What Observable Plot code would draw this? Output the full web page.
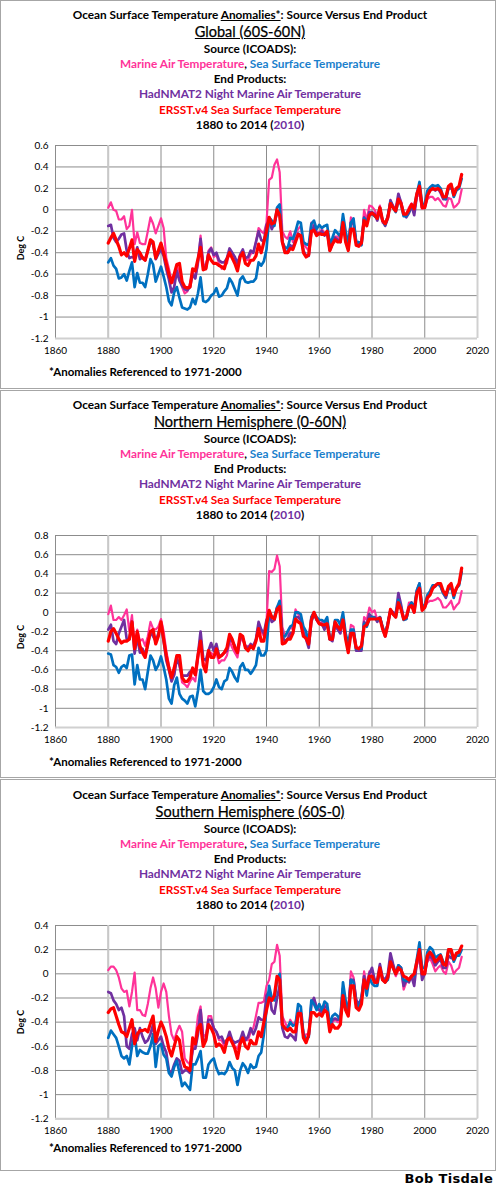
<!DOCTYPE html>
<html><head><meta charset="utf-8">
<script src="https://cdn.jsdelivr.net/npm/d3@7"></script>
<script src="https://cdn.jsdelivr.net/npm/@observablehq/plot@0.6"></script>
<style>
body{margin:0;background:#fff;}
#page{position:relative;width:500px;height:1188px;background:#fff;font-family:Lato,"Open Sans",sans-serif;color:#000;}
.box{position:absolute;left:0;width:496px;border:1px solid #a6a6a6;box-sizing:border-box;}
.ln{position:absolute;left:0;width:500px;text-align:center;white-space:nowrap;font-weight:bold;font-size:11.8px;line-height:14px;}
.big{font-size:14.5px;font-weight:normal;line-height:18px;text-decoration:underline;-webkit-text-stroke:0.25px #000;}
.u{text-decoration:underline;}
.ylab{position:absolute;font-size:9px;font-weight:bold;transform:translate(-50%,-50%) rotate(-90deg);white-space:nowrap;}
.foot{position:absolute;left:49px;font-size:11.5px;font-weight:bold;white-space:nowrap;line-height:14px;}
.sig{position:absolute;right:7px;top:1171px;font-size:13px;font-weight:900;font-family:"DejaVu Sans",sans-serif;letter-spacing:0.3px;}
.plot{position:absolute;left:0;}
</style>
</head><body><div id="page"></div>
<script>
const years = d3.range(1880, 2015);
const hadYears = d3.range(1880, 2011);
const xTicks = [1860, 1880, 1900, 1920, 1940, 1960, 1980, 2000, 2020];
const seriesNames = ["Marine Air Temperature", "HadNMAT2 Night Marine Air Temperature", "Sea Surface Temperature", "ERSST.v4 Sea Surface Temperature"];
const seriesColors = ["#ff3399", "#7030a0", "#0070c0", "#ff0000"];
const panelTitles = ["Global (60S-60N)", "Northern Hemisphere (0-60N)", "Southern Hemisphere (60S-0)"];
const yTicksGlobal = [-1.2, -1, -0.8, -0.6, -0.4, -0.2, 0, 0.2, 0.4, 0.6];
const yTicksNH = [-1.2, -1, -0.8, -0.6, -0.4, -0.2, 0, 0.2, 0.4, 0.6, 0.8];
const yTicksSH = [-1.2, -1, -0.8, -0.6, -0.4, -0.2, 0, 0.2, 0.4];

// ---------- Global (60S-60N) ----------
const globalMAT = [
 0.02,0.07,0.0,-0.01,-0.09,-0.09,-0.06,-0.18,-0.15,0.0,
 -0.32,-0.21,-0.31,-0.32,-0.32,-0.2,-0.07,-0.13,-0.22,-0.15,
 -0.08,-0.17,-0.45,-0.55,-0.66,-0.68,-0.52,-0.6,-0.72,-0.78,
 -0.76,-0.68,-0.58,-0.63,-0.52,-0.24,-0.5,-0.54,-0.38,-0.35,
 -0.44,-0.42,-0.5,-0.55,-0.52,-0.5,-0.38,-0.43,-0.47,-0.52,
 -0.42,-0.39,-0.46,-0.47,-0.41,-0.4,-0.3,-0.17,-0.2,-0.22,
 -0.12,0.28,0.3,0.42,0.47,0.35,-0.2,-0.25,-0.27,-0.2,
 -0.3,-0.22,-0.18,-0.15,-0.32,-0.35,-0.38,-0.12,-0.15,-0.2,
 -0.22,-0.18,-0.22,-0.2,-0.37,-0.3,-0.25,-0.25,-0.3,-0.12,
 -0.28,-0.35,-0.07,-0.1,-0.32,-0.3,-0.32,0.0,-0.1,0.04,
 0.03,0.0,-0.06,0.04,-0.12,-0.14,-0.05,0.08,0.04,0.0,
 0.12,0.08,-0.05,-0.04,0.02,0.06,-0.02,0.12,0.15,0.01,
 0.02,0.1,0.12,0.12,0.09,0.11,0.08,0.04,0.03,0.11,
 0.1,0.02,0.04,0.07,0.19];
const globalSST = [
 -0.49,-0.45,-0.52,-0.55,-0.64,-0.63,-0.6,-0.66,-0.57,-0.49,
 -0.72,-0.59,-0.68,-0.68,-0.72,-0.6,-0.46,-0.51,-0.67,-0.6,
 -0.53,-0.62,-0.72,-0.85,-0.89,-0.77,-0.72,-0.82,-0.91,-0.92,
 -0.93,-0.91,-0.83,-0.88,-0.78,-0.63,-0.85,-0.86,-0.84,-0.8,
 -0.78,-0.73,-0.81,-0.8,-0.76,-0.73,-0.64,-0.68,-0.74,-0.8,
 -0.65,-0.62,-0.67,-0.68,-0.67,-0.67,-0.64,-0.49,-0.52,-0.48,
 -0.37,-0.07,-0.1,-0.15,0.02,0.05,-0.3,-0.35,-0.36,-0.26,
 -0.27,-0.2,-0.11,-0.12,-0.3,-0.32,-0.33,-0.13,-0.1,-0.18,
 -0.14,-0.17,-0.15,-0.14,-0.32,-0.26,-0.19,-0.22,-0.25,-0.04,
 -0.2,-0.32,-0.12,-0.08,-0.3,-0.3,-0.33,-0.08,-0.12,-0.05,
 -0.04,-0.06,-0.08,0.02,-0.1,-0.14,-0.06,0.07,0.02,-0.02,
 0.08,0.05,-0.06,-0.06,-0.02,0.04,0.03,0.15,0.26,0.05,
 0.06,0.18,0.21,0.23,0.22,0.23,0.2,0.12,0.1,0.21,
 0.23,0.12,0.18,0.2,0.29];
const globalHad = [
 -0.15,-0.14,-0.26,-0.3,-0.27,-0.23,-0.22,-0.38,-0.45,-0.44,
 -0.45,-0.35,-0.46,-0.44,-0.47,-0.38,-0.3,-0.32,-0.46,-0.41,
 -0.37,-0.43,-0.55,-0.65,-0.77,-0.72,-0.57,-0.66,-0.71,-0.74,
 -0.75,-0.72,-0.6,-0.64,-0.48,-0.27,-0.53,-0.55,-0.4,-0.36,
 -0.42,-0.4,-0.47,-0.49,-0.49,-0.45,-0.36,-0.4,-0.44,-0.5,
 -0.42,-0.37,-0.45,-0.44,-0.38,-0.4,-0.3,-0.2,-0.28,-0.3,
 -0.14,-0.1,-0.18,-0.12,-0.03,-0.05,-0.3,-0.38,-0.4,-0.33,
 -0.35,-0.28,-0.22,-0.25,-0.38,-0.43,-0.43,-0.2,-0.15,-0.22,
 -0.22,-0.2,-0.24,-0.2,-0.38,-0.32,-0.26,-0.28,-0.3,-0.1,
 -0.27,-0.35,-0.12,-0.13,-0.3,-0.33,-0.32,-0.07,-0.12,-0.02,
 -0.02,-0.04,-0.1,0.0,-0.1,-0.15,-0.08,0.09,0.03,0.0,
 0.15,0.07,-0.03,-0.07,-0.03,0.04,-0.05,0.13,0.2,0.02,
 0.03,0.14,0.18,0.2,0.18,0.2,0.16,0.1,0.1,0.2,
 0.2];
const globalERSST = [
 -0.31,-0.26,-0.22,-0.28,-0.34,-0.42,-0.4,-0.43,-0.36,-0.28,
 -0.48,-0.37,-0.4,-0.45,-0.47,-0.38,-0.28,-0.3,-0.45,-0.38,
 -0.31,-0.4,-0.5,-0.6,-0.68,-0.6,-0.51,-0.5,-0.67,-0.72,
 -0.73,-0.72,-0.55,-0.57,-0.46,-0.35,-0.56,-0.55,-0.42,-0.47,
 -0.5,-0.5,-0.52,-0.53,-0.55,-0.46,-0.4,-0.45,-0.5,-0.57,
 -0.44,-0.4,-0.5,-0.52,-0.47,-0.47,-0.43,-0.32,-0.4,-0.3,
 -0.2,-0.07,-0.13,-0.12,0.0,-0.05,-0.3,-0.4,-0.4,-0.36,
 -0.37,-0.3,-0.23,-0.24,-0.4,-0.44,-0.42,-0.2,-0.19,-0.24,
 -0.22,-0.23,-0.23,-0.2,-0.38,-0.32,-0.28,-0.3,-0.3,-0.12,
 -0.3,-0.38,-0.18,-0.18,-0.33,-0.34,-0.31,-0.1,-0.15,-0.05,
 -0.03,-0.05,-0.08,0.02,-0.1,-0.13,-0.07,0.06,0.02,-0.01,
 0.1,0.06,-0.04,-0.04,0.0,0.05,0.01,0.15,0.22,0.02,
 0.02,0.13,0.18,0.2,0.19,0.2,0.18,0.12,0.12,0.22,
 0.24,0.14,0.2,0.22,0.33];

// ---------- Northern Hemisphere (0-60N) ----------
const nhMAT = [
 -0.02,0.07,-0.08,-0.08,-0.05,-0.08,-0.03,0.03,-0.2,-0.03,
 -0.35,-0.18,-0.3,-0.28,-0.35,-0.25,-0.1,-0.17,-0.18,-0.15,
 -0.07,-0.2,-0.4,-0.55,-0.7,-0.65,-0.48,-0.55,-0.73,-0.75,
 -0.78,-0.72,-0.68,-0.72,-0.5,-0.25,-0.52,-0.58,-0.42,-0.42,
 -0.45,-0.42,-0.53,-0.5,-0.5,-0.45,-0.3,-0.37,-0.42,-0.47,
 -0.3,-0.28,-0.37,-0.35,-0.35,-0.38,-0.3,-0.12,-0.2,-0.25,
 -0.1,0.43,0.42,0.45,0.59,0.48,-0.15,-0.25,-0.23,-0.15,
 -0.18,0.03,-0.02,-0.05,-0.18,-0.28,-0.3,-0.05,0.0,-0.08,
 -0.12,-0.1,-0.15,-0.08,-0.28,-0.25,-0.13,-0.15,-0.15,-0.05,
 -0.25,-0.35,-0.13,-0.15,-0.35,-0.38,-0.38,-0.05,-0.08,0.05,
 0.0,0.02,-0.08,-0.05,-0.15,-0.22,-0.1,0.03,0.0,-0.02,
 0.1,0.07,-0.05,-0.05,0.1,0.1,0.02,0.22,0.25,0.02,
 0.05,0.1,0.12,0.12,0.13,0.15,0.12,0.05,0.05,0.08,
 0.12,0.03,0.07,0.1,0.22];
const nhSST = [
 -0.43,-0.44,-0.55,-0.57,-0.63,-0.57,-0.55,-0.58,-0.45,-0.44,
 -0.75,-0.55,-0.7,-0.7,-0.8,-0.62,-0.45,-0.5,-0.6,-0.55,
 -0.46,-0.57,-0.7,-0.9,-0.95,-0.76,-0.68,-0.85,-0.9,-0.92,
 -0.95,-0.88,-0.87,-0.98,-0.82,-0.6,-0.82,-0.85,-0.85,-0.83,
 -0.78,-0.7,-0.78,-0.8,-0.72,-0.7,-0.58,-0.62,-0.68,-0.72,
 -0.57,-0.53,-0.6,-0.6,-0.64,-0.6,-0.55,-0.37,-0.45,-0.45,
 -0.4,0.0,-0.05,-0.05,0.05,0.12,-0.25,-0.25,-0.2,-0.15,
 -0.13,0.0,0.0,-0.02,-0.15,-0.2,-0.33,-0.05,0.0,-0.05,
 -0.08,-0.08,-0.1,-0.05,-0.28,-0.25,-0.08,-0.08,-0.13,0.0,
 -0.22,-0.33,-0.18,-0.18,-0.38,-0.38,-0.38,-0.12,-0.15,-0.07,
 -0.05,-0.06,-0.08,-0.05,-0.15,-0.23,-0.12,0.02,-0.02,-0.05,
 0.13,0.05,-0.08,-0.07,0.05,0.1,0.05,0.23,0.3,0.05,
 0.08,0.18,0.22,0.28,0.28,0.3,0.27,0.2,0.17,0.25,
 0.27,0.15,0.25,0.28,0.42];
const nhHad = [
 -0.18,-0.13,-0.3,-0.33,-0.22,-0.15,-0.08,-0.28,-0.28,-0.1,
 -0.43,-0.25,-0.42,-0.38,-0.45,-0.35,-0.2,-0.25,-0.3,-0.22,
 -0.13,-0.3,-0.5,-0.6,-0.72,-0.65,-0.48,-0.55,-0.66,-0.66,
 -0.66,-0.62,-0.6,-0.65,-0.45,-0.2,-0.48,-0.5,-0.4,-0.32,
 -0.4,-0.33,-0.45,-0.45,-0.42,-0.4,-0.28,-0.3,-0.35,-0.42,
 -0.27,-0.27,-0.35,-0.38,-0.33,-0.35,-0.28,-0.1,-0.18,-0.22,
 -0.08,-0.02,-0.1,-0.08,0.05,0.08,-0.25,-0.3,-0.28,-0.22,
 -0.22,-0.05,-0.05,-0.08,-0.22,-0.28,-0.37,-0.1,-0.02,-0.08,
 -0.12,-0.12,-0.18,-0.1,-0.28,-0.3,-0.13,-0.18,-0.22,-0.05,
 -0.25,-0.4,-0.2,-0.22,-0.4,-0.4,-0.4,-0.1,-0.13,-0.02,
 -0.05,-0.05,-0.1,-0.05,-0.17,-0.25,-0.12,0.02,0.0,-0.02,
 0.2,0.08,-0.07,-0.07,0.05,0.1,0.0,0.22,0.3,0.03,
 0.05,0.15,0.2,0.26,0.27,0.3,0.27,0.2,0.15,0.25,
 0.25];
const nhERSST = [
 -0.3,-0.2,-0.17,-0.22,-0.28,-0.32,-0.3,-0.3,-0.28,-0.1,
 -0.38,-0.2,-0.35,-0.42,-0.47,-0.32,-0.2,-0.18,-0.33,-0.25,
 -0.1,-0.28,-0.45,-0.58,-0.68,-0.58,-0.45,-0.45,-0.68,-0.72,
 -0.72,-0.68,-0.58,-0.65,-0.45,-0.3,-0.55,-0.62,-0.4,-0.47,
 -0.47,-0.38,-0.47,-0.45,-0.42,-0.37,-0.23,-0.28,-0.37,-0.42,
 -0.23,-0.25,-0.37,-0.4,-0.35,-0.38,-0.3,-0.17,-0.3,-0.3,
 -0.12,0.02,-0.05,-0.07,0.03,0.06,-0.33,-0.32,-0.28,-0.28,
 -0.22,-0.07,-0.1,-0.12,-0.25,-0.27,-0.33,-0.08,0.0,-0.07,
 -0.12,-0.13,-0.13,-0.12,-0.28,-0.28,-0.1,-0.15,-0.18,-0.08,
 -0.28,-0.42,-0.22,-0.22,-0.37,-0.38,-0.35,-0.15,-0.13,-0.07,
 -0.07,-0.07,-0.07,-0.06,-0.17,-0.25,-0.13,0.03,-0.02,-0.05,
 0.1,0.03,-0.07,-0.05,0.05,0.07,0.0,0.2,0.25,0.02,
 0.05,0.15,0.18,0.25,0.28,0.3,0.3,0.22,0.18,0.27,
 0.3,0.18,0.25,0.3,0.46];

// ---------- Southern Hemisphere (60S-0) ----------
const shMAT = [
 0.03,0.06,0.06,0.03,-0.03,-0.12,-0.15,-0.14,-0.27,-0.15,
 0.01,-0.3,-0.3,-0.34,-0.35,-0.25,-0.12,-0.03,-0.12,-0.28,
 -0.15,-0.08,-0.15,-0.35,-0.5,-0.55,-0.48,-0.43,-0.48,-0.7,
 -0.73,-0.75,-0.65,-0.55,-0.35,-0.27,-0.5,-0.52,-0.35,-0.35,
 -0.45,-0.48,-0.55,-0.55,-0.6,-0.58,-0.5,-0.55,-0.6,-0.62,
 -0.55,-0.52,-0.55,-0.55,-0.48,-0.45,-0.35,-0.24,-0.24,-0.23,
 -0.1,-0.05,0.08,0.1,0.24,0.15,-0.35,-0.4,-0.45,-0.38,
 -0.42,-0.4,-0.3,-0.33,-0.52,-0.5,-0.5,-0.25,-0.2,-0.28,
 -0.3,-0.28,-0.25,-0.28,-0.45,-0.4,-0.38,-0.4,-0.4,-0.12,
 -0.27,-0.3,0.02,-0.03,-0.2,-0.28,-0.22,0.02,-0.1,0.02,
 0.0,-0.05,-0.08,0.07,-0.05,-0.07,-0.02,0.1,0.05,-0.02,
 0.03,0.05,-0.13,-0.07,-0.05,-0.02,-0.05,0.07,0.12,-0.02,
 0.02,0.1,0.13,0.08,0.02,0.05,0.07,0.02,0.0,0.1,
 0.07,0.0,0.03,0.05,0.14];
const shSST = [
 -0.53,-0.47,-0.5,-0.53,-0.6,-0.68,-0.7,-0.68,-0.75,-0.6,
 -0.5,-0.68,-0.63,-0.65,-0.66,-0.66,-0.6,-0.5,-0.77,-0.6,
 -0.58,-0.67,-0.7,-0.82,-0.85,-0.77,-0.72,-0.82,-0.93,-0.9,
 -0.93,-0.96,-0.75,-0.75,-0.7,-0.64,-0.86,-0.86,-0.75,-0.72,
 -0.7,-0.78,-0.83,-0.82,-0.83,-0.8,-0.73,-0.78,-0.8,-0.92,
 -0.8,-0.74,-0.77,-0.82,-0.75,-0.78,-0.77,-0.68,-0.65,-0.5,
 -0.3,-0.1,-0.2,-0.22,-0.05,0.0,-0.43,-0.45,-0.45,-0.4,
 -0.43,-0.42,-0.25,-0.27,-0.5,-0.55,-0.52,-0.22,-0.25,-0.3,
 -0.25,-0.3,-0.23,-0.25,-0.42,-0.35,-0.33,-0.35,-0.38,-0.07,
 -0.22,-0.32,-0.05,-0.07,-0.25,-0.28,-0.2,-0.05,-0.18,-0.03,
 -0.08,-0.1,-0.1,0.05,-0.05,-0.07,-0.05,0.1,0.05,0.0,
 0.07,0.05,-0.05,-0.06,-0.05,-0.02,-0.02,0.12,0.26,0.05,
 0.05,0.18,0.22,0.2,0.13,0.15,0.16,0.1,0.08,0.2,
 0.18,0.1,0.15,0.15,0.2];
const shHad = [
 -0.15,-0.16,-0.22,-0.25,-0.3,-0.28,-0.35,-0.6,-0.62,-0.5,
 -0.45,-0.55,-0.45,-0.52,-0.57,-0.55,-0.5,-0.42,-0.58,-0.55,
 -0.52,-0.6,-0.65,-0.8,-0.82,-0.75,-0.7,-0.72,-0.82,-0.8,
 -0.8,-0.82,-0.62,-0.62,-0.5,-0.3,-0.55,-0.55,-0.38,-0.38,
 -0.45,-0.48,-0.53,-0.52,-0.57,-0.55,-0.48,-0.55,-0.57,-0.56,
 -0.55,-0.48,-0.55,-0.52,-0.45,-0.5,-0.45,-0.36,-0.38,-0.38,
 -0.18,-0.15,-0.3,-0.33,-0.2,-0.1,-0.45,-0.52,-0.53,-0.5,
 -0.52,-0.55,-0.32,-0.33,-0.5,-0.55,-0.52,-0.25,-0.2,-0.28,
 -0.3,-0.32,-0.27,-0.28,-0.45,-0.38,-0.37,-0.38,-0.38,-0.12,
 -0.25,-0.32,-0.05,-0.05,-0.22,-0.25,-0.2,-0.02,-0.12,0.0,
 0.05,-0.05,-0.05,0.08,-0.03,-0.05,0.0,0.17,0.08,0.0,
 0.07,0.05,-0.1,-0.05,-0.07,-0.02,-0.1,0.1,0.15,-0.05,
 0.0,0.12,0.15,0.12,0.07,0.1,0.12,0.05,0.05,0.15,
 0.13];
const shERSST = [
 -0.32,-0.29,-0.28,-0.35,-0.42,-0.48,-0.49,-0.52,-0.45,-0.38,
 -0.58,-0.5,-0.47,-0.47,-0.46,-0.48,-0.41,-0.35,-0.56,-0.47,
 -0.4,-0.45,-0.52,-0.62,-0.68,-0.6,-0.52,-0.55,-0.7,-0.77,
 -0.78,-0.8,-0.53,-0.58,-0.45,-0.42,-0.6,-0.55,-0.42,-0.45,
 -0.5,-0.6,-0.58,-0.6,-0.65,-0.55,-0.53,-0.57,-0.62,-0.7,
 -0.58,-0.53,-0.6,-0.62,-0.55,-0.58,-0.58,-0.48,-0.52,-0.4,
 -0.3,-0.2,-0.22,-0.18,-0.02,-0.05,-0.42,-0.45,-0.47,-0.45,
 -0.48,-0.48,-0.33,-0.33,-0.53,-0.57,-0.5,-0.32,-0.32,-0.35,
 -0.33,-0.35,-0.3,-0.32,-0.48,-0.42,-0.45,-0.45,-0.42,-0.18,
 -0.3,-0.35,-0.1,-0.1,-0.28,-0.3,-0.25,-0.05,-0.12,-0.02,
 -0.02,-0.07,-0.07,0.05,-0.05,-0.07,-0.03,0.1,0.05,0.0,
 0.05,0.03,-0.02,-0.03,-0.05,-0.02,0.0,0.1,0.2,0.0,
 0.0,0.15,0.18,0.15,0.1,0.12,0.15,0.08,0.07,0.2,
 0.2,0.12,0.17,0.18,0.23];

const panels = [
  {top: 0, boxH: 389, title: panelTitles[0], mat: globalMAT, sst: globalSST, had: globalHad, ers: globalERSST, ticks: yTicksGlobal, plotTop: 145.3, plotH: 193, foot: 372},
  {top: 390, boxH: 388, title: panelTitles[1], mat: nhMAT, sst: nhSST, had: nhHad, ers: nhERSST, ticks: yTicksNH, plotTop: 535.3, plotH: 192, foot: 762},
  {top: 779, boxH: 392, title: panelTitles[2], mat: shMAT, sst: shSST, had: shHad, ers: shERSST, ticks: yTicksSH, plotTop: 925, plotH: 193.3, foot: 1148}
];

const page = document.getElementById("page");
function addLine(html, centerY, cls) {
  const d = document.createElement("div");
  d.className = "ln" + (cls ? " " + cls : "");
  d.innerHTML = html;
  const lh = cls === "big" ? 18 : 14;
  d.style.top = (centerY - lh / 2) + "px";
  page.appendChild(d);
}
const c = seriesColors;
const mt = 8, mb = 22;
panels.forEach((p, i) => {
  const box = document.createElement("div");
  box.className = "box";
  box.style.top = p.top + "px";
  box.style.height = p.boxH + "px";
  page.appendChild(box);
  const t0 = p.top + 15 + (i === 2 ? 1 : 0);
  const offs = [0, 17, 34, 49, 64, 79, 95, 110];
  addLine('Ocean Surface Temperature <span class="u">Anomalies*</span>: Source Versus End Product', t0 + offs[0]);
  addLine(p.title, t0 + offs[1], "big");
  addLine('Source (ICOADS):', t0 + offs[2]);
  addLine(`<span style="color:${c[0]}">${seriesNames[0]}</span>, <span style="color:#1a80cc">${seriesNames[2]}</span>`, t0 + offs[3]);
  addLine('End Products:', t0 + offs[4]);
  addLine(`<span style="color:${c[1]}">${seriesNames[1]}</span>`, t0 + offs[5]);
  addLine(`<span style="color:${c[3]}">${seriesNames[3]}</span>`, t0 + offs[6]);
  addLine(`1880 to 2014 (<span style="color:${c[1]}">2010</span>)`, t0 + offs[7]);

  const rows = [];
  years.forEach((y, k) => rows.push({year: y, v: p.mat[k], s: seriesNames[0]}));
  hadYears.forEach((y, k) => rows.push({year: y, v: p.had[k], s: seriesNames[1]}));
  years.forEach((y, k) => rows.push({year: y, v: p.sst[k], s: seriesNames[2]}));
  years.forEach((y, k) => rows.push({year: y, v: p.ers[k], s: seriesNames[3]}));
  const widths = {[seriesNames[0]]: 2.2, [seriesNames[1]]: 2.7, [seriesNames[2]]: 2.7, [seriesNames[3]]: 3.2};
  const yd = [p.ticks[0], p.ticks[p.ticks.length - 1]];
  const chart = Plot.plot({
    width: 498,
    height: mt + p.plotH + mb,
    marginLeft: 55, marginRight: 21, marginTop: mt, marginBottom: mb,
    style: {fontFamily: "Lato, sans-serif", fontSize: "10px", background: "transparent", color: "#000"},
    x: {domain: [1860, 2020], ticks: xTicks, tickFormat: d => String(d), tickSize: 0, tickPadding: 8, label: null},
    y: {domain: yd, ticks: p.ticks, tickFormat: d => String(+d.toFixed(1)), tickSize: 0, tickPadding: 7, label: null},
    color: {domain: seriesNames, range: seriesColors},
    marks: [
      Plot.ruleY(p.ticks, {stroke: "#8c8c8c", strokeWidth: 1}),
      Plot.ruleX(xTicks, {stroke: "#8c8c8c", strokeWidth: 1}),
      Plot.ruleX([2020], {stroke: "#d0d0d0", strokeWidth: 2}),
      Plot.ruleY([yd[0]], {stroke: "#d0d0d0", strokeWidth: 2}),
      Plot.ruleX([1880], {stroke: "#c8c8c8", strokeWidth: 2}),
      ...seriesNames.map(sn => Plot.line(rows.filter(r => r.s === sn), {x: "year", y: "v", stroke: "s", strokeWidth: widths[sn], strokeLinejoin: "round"}))
    ]
  });
  chart.classList.add("plot");
  chart.style.top = (p.plotTop - mt) + "px";
  page.appendChild(chart);

  const yl = document.createElement("div");
  yl.className = "ylab";
  yl.textContent = "Deg C";
  yl.style.left = "20px";
  yl.style.top = (p.plotTop + p.plotH / 2 + (i === 2 ? 0 : 6)) + "px";
  page.appendChild(yl);

  const f = document.createElement("div");
  f.className = "foot";
  f.textContent = "*Anomalies Referenced to 1971-2000";
  f.style.top = (p.foot - 7) + "px";
  page.appendChild(f);
});
const sig = document.createElement("div");
sig.className = "sig";
sig.textContent = "Bob Tisdale";
page.appendChild(sig);
</script></body></html>
